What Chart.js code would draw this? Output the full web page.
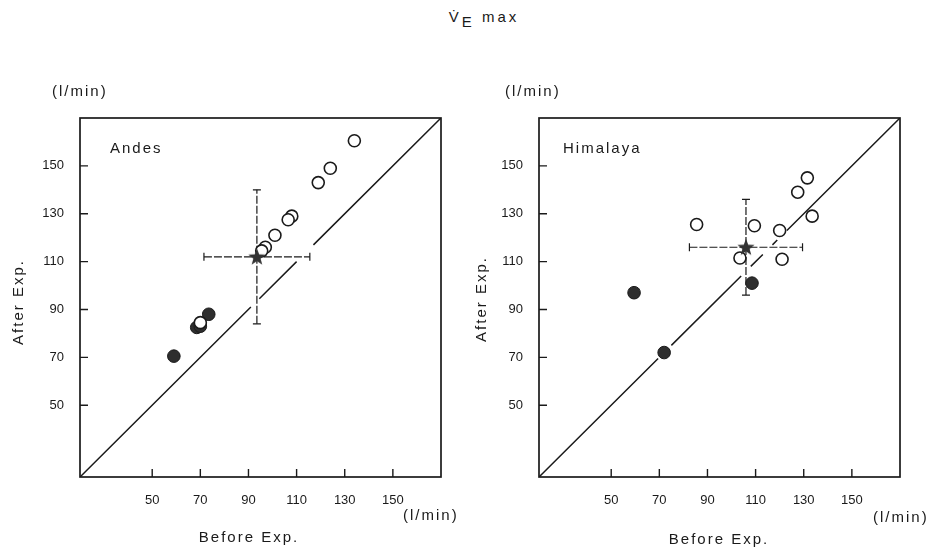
<!DOCTYPE html>
<html>
<head>
<meta charset="utf-8">
<script src="https://cdn.jsdelivr.net/npm/chart.js@4.4.1/dist/chart.umd.min.js"></script>
<style>
    body { margin: 0; background: #fff; width: 937px; height: 549px; position: relative; overflow: hidden; }
    canvas { position: absolute; top: 0; }
    #title { position: absolute; top: 8px; left: 0; width: 968px; text-align: center; font: 15px "Liberation Sans", sans-serif; letter-spacing: 3px; color: #1a1a1a; }
    #title sub { font-size: 15px; vertical-align: -5px; }
</style>
</head>
<body>
<div id="title">V&#775;<sub>E</sub> max</div>
<canvas id="andes" width="470" height="549" style="left:0"></canvas>
<canvas id="himalaya" width="470" height="549" style="left:459px"></canvas>
<script>

/* Shared axes */
const tickValues = [50, 70, 90, 110, 130, 150]
const axisMin = 20
const axisMax = 170

/* Andes : [before, after] */
const andesOpen = [[134, 160.5], [124, 149], [119, 143], [108, 129], [106.5, 127.5], [101, 121], [97, 116], [95.5, 114.5], [70, 84.5]]
const andesFilled = [[59, 70.5], [68.5, 82.5], [70, 83], [73.5, 88]]
const andesMean = [93.5, 112]
const andesSD = [22, 28]
const andesIdentity = [[20, 91], [94.5, 110], [117, 170]]

/* Himalaya : [before, after] */
const himalayaOpen = [[85.5, 125.5], [109.5, 125], [103.5, 111.5], [120, 123], [121, 111], [127.5, 139], [131.5, 145], [133.5, 129]]
const himalayaFilled = [[59.5, 97], [72, 72], [108.5, 101]]
const himalayaMean = [106, 116]
const himalayaSD = [23.5, 20]
const himalayaIdentity = [[20, 69.5], [75, 104], [108, 113], [117, 119], [123, 170]]

const ink = "#1a1a1a"
const font = "Liberation Sans"


const toPoints = arr => arr.map(([x, y]) => ({ x, y }))

/* identity line, broken where the original drawing leaves gaps */
const identityPoints = segments => {
    const pts = []
    segments.forEach(([a, b], i) => {
        if (i > 0) pts.push({ x: a - 0.01, y: null })
        pts.push({ x: a, y: a }, { x: b, y: b })
    })
    return pts
}

const makeStar = () => {
    const c = document.createElement("canvas")
    c.width = 20
    c.height = 20
    const ctx = c.getContext("2d")
    ctx.beginPath()
    for (let i = 0; i < 10; i++) {
        const r = i % 2 === 0 ? 9 : 3.8
        const a = -Math.PI / 2 + i * Math.PI / 5
        ctx.lineTo(10 + r * Math.cos(a), 10.5 + r * Math.sin(a))
    }
    ctx.closePath()
    ctx.fillStyle = "#333"
    ctx.fill()
    return c
}
const star = makeStar()


/* Mean +/- SD cross, drawn under the points */
const errorBars = {
    id: "errorBars",
    beforeDatasetsDraw(chart, args, opts) {
        const { ctx, scales: { x, y } } = chart
        const [mx, my] = opts.mean
        const [sx, sy] = opts.sd
        const px = x.getPixelForValue(mx)
        const py = y.getPixelForValue(my)
        const x0 = x.getPixelForValue(mx - sx)
        const x1 = x.getPixelForValue(mx + sx)
        const y0 = y.getPixelForValue(my - sy)
        const y1 = y.getPixelForValue(my + sy)
        ctx.save()
        ctx.strokeStyle = ink
        ctx.lineWidth = 1.2
        ctx.setLineDash([8, 2])
        ctx.beginPath()
        ctx.moveTo(x0, py)
        ctx.lineTo(x1, py)
        ctx.moveTo(px, y0)
        ctx.lineTo(px, y1)
        ctx.stroke()
        ctx.setLineDash([])
        ctx.beginPath()
        ctx.moveTo(x0, py - 4); ctx.lineTo(x0, py + 4)
        ctx.moveTo(x1, py - 4); ctx.lineTo(x1, py + 4)
        ctx.moveTo(px - 4, y0); ctx.lineTo(px + 4, y0)
        ctx.moveTo(px - 4, y1); ctx.lineTo(px + 4, y1)
        ctx.stroke()
        ctx.restore()
    }
}

/* Box frame with inward ticks */
const frame = {
    id: "frame",
    afterDatasetsDraw(chart) {
        const { ctx, chartArea: a, scales: { x, y } } = chart
        ctx.save()
        ctx.strokeStyle = ink
        ctx.lineWidth = 1.7
        ctx.strokeRect(a.left, a.top, a.right - a.left, a.bottom - a.top)
        ctx.lineWidth = 1.4
        ctx.beginPath()
        for (const t of x.ticks) {
            const p = x.getPixelForValue(t.value)
            ctx.moveTo(p, a.bottom)
            ctx.lineTo(p, a.bottom - 8)
        }
        for (const t of y.ticks) {
            const p = y.getPixelForValue(t.value)
            ctx.moveTo(a.left, p)
            ctx.lineTo(a.left + 8, p)
        }
        ctx.stroke()
        ctx.restore()
    }
}

/* Panel name, units and axis titles */
const panelText = {
    id: "panelText",
    afterDraw(chart, args, o) {
        const { ctx, chartArea: a } = chart
        ctx.save()
        ctx.fillStyle = ink
        ctx.textBaseline = "middle"
        ctx.letterSpacing = "2px"
        ctx.font = `15px "${font}"`
        ctx.textAlign = "left"
        ctx.fillText(o.name, a.left + o.nameDx, a.top + 31)
        ctx.fillText("(l/min)", a.left + o.unitTopDx, 92)
        ctx.fillText("(l/min)", a.right + o.unitBottomDx, o.unitBottomY)
        ctx.textAlign = "center"
        ctx.fillText("Before Exp.", a.left + o.xTitleDx, o.xTitleY)
        ctx.translate(a.left + o.yTitleDx, o.yTitleY)
        ctx.rotate(-Math.PI / 2)
        ctx.fillText("After Exp.", 0, 0)
        ctx.restore()
    }
}


const axis = (fit) => ({
    type: "linear",
    min: axisMin,
    max: axisMax,
    afterBuildTicks: s => { s.ticks = tickValues.map(v => ({ value: v })) },
    afterFit: fit,
    grid: { display: false },
    border: { display: false },
    ticks: { padding: 8, color: ink, font: { family: font, size: 13 } }
})

const makePanel = (id, open, filled, mean, sd, identity, text) => {
    return new Chart(document.getElementById(id), {
        type: "scatter",
        data: {
            datasets: [
                {
                    data: [{ x: mean[0], y: mean[1] }],
                    pointStyle: star,
                    order: 0
                },
                {
                    data: toPoints(open),
                    pointRadius: 6,
                    backgroundColor: "#fff",
                    borderColor: ink,
                    borderWidth: 1.6,
                    order: 1
                },
                {
                    data: toPoints(filled),
                    pointRadius: 6.3,
                    backgroundColor: "#2e2e2e",
                    borderColor: ink,
                    borderWidth: 1,
                    order: 2
                },
                {
                    data: identityPoints(identity),
                    showLine: true,
                    spanGaps: false,
                    pointRadius: 0,
                    borderColor: ink,
                    borderWidth: 1.5,
                    order: 3
                }
            ]
        },
        options: {
            responsive: false,
            animation: false,
            devicePixelRatio: 1,
            layout: { padding: { top: 118, right: 29, left: 0, bottom: 0 } },
            scales: {
                x: axis(s => { s.height = 72 }),
                y: axis(s => { s.width = 80 })
            },
            plugins: {
                legend: { display: false },
                tooltip: { enabled: false },
                errorBars: { mean, sd },
                panelText: text
            }
        },
        plugins: [errorBars, frame, panelText]
    })
}

makePanel("andes", andesOpen, andesFilled, andesMean, andesSD, andesIdentity, {
    name: "Andes", nameDx: 30, unitTopDx: -28, unitBottomDx: -38, unitBottomY: 516,
    xTitleDx: 169, xTitleY: 538, yTitleDx: -61, yTitleY: 302
})

makePanel("himalaya", himalayaOpen, himalayaFilled, himalayaMean, himalayaSD, himalayaIdentity, {
    name: "Himalaya", nameDx: 24, unitTopDx: -34, unitBottomDx: -27, unitBottomY: 518,
    xTitleDx: 180, xTitleY: 540, yTitleDx: -57, yTitleY: 299
})

</script>
</body>
</html>
